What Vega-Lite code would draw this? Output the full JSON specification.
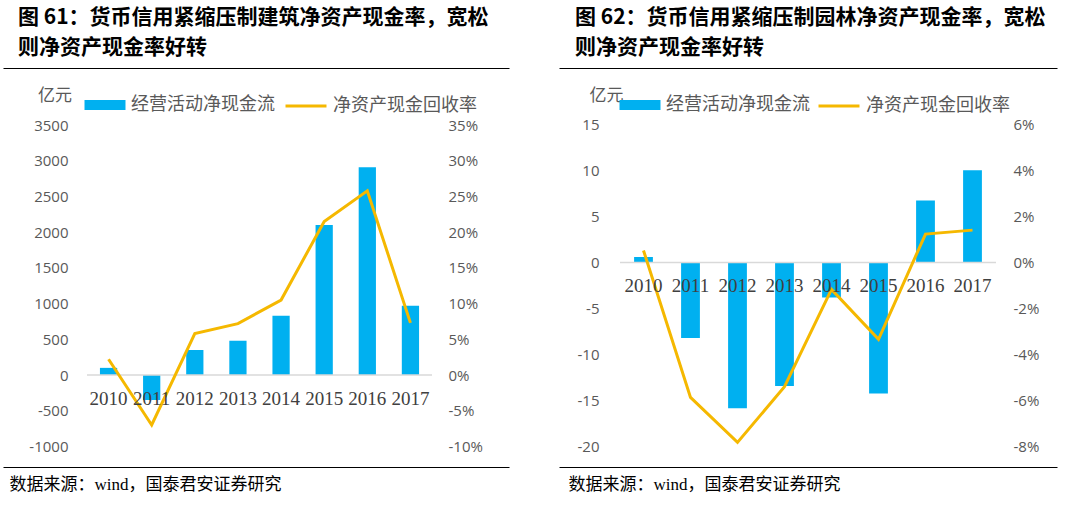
{
  "$schema": "https://vega.github.io/schema/vega-lite/v6.json",
  "padding": {"left": 3, "top": 7, "right": 5, "bottom": 5},
  "background": "white",
  "config": {"view": {"stroke": null}},
  "spacing": 50,
  "resolve": {"scale": {"fill": "independent", "stroke": "independent"}, "legend": {"fill": "independent", "stroke": "independent"}},
  "hconcat": [
    {
      "width": 506,
      "height": 399,
      "title": {"text": ["图 61：货币信用紧缩压制建筑净资产现金率，宽松", "则净资产现金率好转"], "anchor": "start", "dx": 15, "fontSize": 21, "font": "Noto Sans CJK SC", "fontWeight": "bold", "color": "#000000", "lineHeight": 30, "offset": 10},
      "data": {"values": [
        {"year": "2010", "cf": 100, "rate": 0.022},
        {"year": "2011", "cf": -350, "rate": -0.070},
        {"year": "2012", "cf": 350, "rate": 0.058},
        {"year": "2013", "cf": 480, "rate": 0.072},
        {"year": "2014", "cf": 830, "rate": 0.105},
        {"year": "2015", "cf": 2100, "rate": 0.215},
        {"year": "2016", "cf": 2910, "rate": 0.258},
        {"year": "2017", "cf": 970, "rate": 0.073}
      ]},
      "resolve": {"scale": {"x": "independent", "y": "independent"}, "axis": {"x": "independent", "y": "independent"}},
      "layer": [
        {
          "mark": {"type": "bar"},
          "encoding": {
            "x": {"field": "year", "type": "ordinal",
              "scale": {"domain": ["2010","2011","2012","2013","2014","2015","2016","2017"], "range": [84, 429], "paddingInner": 0.6, "paddingOuter": 0.3},
              "axis": {"orient": "bottom", "offset": -92, "zindex": 1, "domain": false, "ticks": false, "tickSize": 0, "labelPadding": 23, "labelBaseline": "middle", "labelAngle": 0, "labelFont": "Liberation Serif", "labelFontSize": 19, "labelColor": "#404040", "title": null, "grid": false}},
            "y": {"field": "cf", "type": "quantitative",
              "scale": {"domain": [-1288.5, 4300], "nice": false, "zero": false},
              "axis": {"orient": "left", "offset": -65, "values": [-1000, -500, 0, 500, 1000, 1500, 2000, 2500, 3000, 3500], "labelExpr": "'' + datum.value", "domain": false, "ticks": false, "tickSize": 0, "grid": false, "labelPadding": 0, "labelFont": "Open Sans", "labelFontSize": 15, "labelColor": "#595959",
                "title": "亿元", "titleAngle": 0, "titleX": -13.5, "titleY": 27, "titleAlign": "center", "titleBaseline": "middle", "titleFont": "Noto Sans CJK SC", "titleFontSize": 17, "titleFontWeight": "normal", "titleColor": "#595959"}},
            "fill": {"datum": "经营活动净现金流", "type": "nominal",
              "scale": {"domain": ["经营活动净现金流"], "range": ["#00B0F0"]},
              "legend": {"orient": "none", "legendX": 91, "legendY": 26, "title": null, "symbolType": "M-2,-0.5H2V0.5H-2Z", "symbolSize": 420, "labelFont": "Noto Sans CJK SC", "labelFontSize": 18, "labelColor": "#595959", "labelOffset": 15}}
          }
        },
        {
          "data": {"values": [{"start": "2010", "end": "2017", "v": 0}]},
          "mark": {"type": "rule", "color": "#D9D9D9", "strokeWidth": 1.5},
          "encoding": {
            "x": {"field": "start", "type": "ordinal", "bandPosition": -0.75,
              "scale": {"domain": ["2010","2011","2012","2013","2014","2015","2016","2017"], "range": [84, 429], "paddingInner": 0.6, "paddingOuter": 0.3},
              "axis": null},
            "x2": {"field": "end", "bandPosition": 1.75},
            "y": {"field": "v", "type": "quantitative", "scale": {"domain": [-1288.5, 4300], "nice": false, "zero": false}, "axis": null}
          }
        },
        {
          "mark": {"type": "line", "strokeWidth": 3},
          "encoding": {
            "x": {"field": "year", "type": "ordinal",
              "scale": {"domain": ["2010","2011","2012","2013","2014","2015","2016","2017"], "range": [84, 429], "paddingInner": 0.6, "paddingOuter": 0.3},
              "axis": null},
            "y": {"field": "rate", "type": "quantitative",
              "scale": {"domain": [-0.12885, 0.43], "nice": false, "zero": false},
              "axis": {"orient": "right", "offset": -61, "values": [-0.1, -0.05, 0, 0.05, 0.1, 0.15, 0.2, 0.25, 0.3, 0.35], "labelExpr": "round(datum.value * 100) + '%'", "domain": false, "ticks": false, "tickSize": 0, "grid": false, "labelPadding": 0, "labelAlign": "left", "labelFont": "Open Sans", "labelFontSize": 15, "labelColor": "#595959", "title": null}},
            "stroke": {"datum": "净资产现金回收率", "type": "nominal",
              "scale": {"domain": ["净资产现金回收率"], "range": ["#F5B800"]},
              "legend": {"orient": "none", "legendX": 291, "legendY": 26, "title": null, "symbolType": "M-2,0H2", "symbolSize": 420, "symbolStrokeWidth": 3, "labelFont": "Noto Sans CJK SC", "labelFontSize": 18, "labelColor": "#595959", "labelOffset": 15}}
          }
        },
        {
          "data": {"values": [{"f": 0.5}]},
          "mark": {"type": "point", "opacity": 0, "size": 1},
          "encoding": {
            "x": {"field": "f", "type": "quantitative", "scale": {"domain": [0, 1]},
              "axis": {"orient": "top", "domain": true, "domainColor": "#000000", "domainWidth": 1, "labels": false, "ticks": false, "grid": false, "title": null}}
          }
        },
        {
          "data": {"values": [{"f": 0.5}]},
          "mark": {"type": "point", "opacity": 0, "size": 1},
          "encoding": {
            "x": {"field": "f", "type": "quantitative", "scale": {"domain": [0, 1]},
              "axis": {"orient": "bottom", "domain": true, "domainColor": "#000000", "domainWidth": 1, "labels": false, "ticks": false, "grid": false,
                "title": "数据来源：wind，国泰君安证券研究", "titleX": 6, "titleY": 17, "titleAlign": "left", "titleBaseline": "middle", "titleFont": "Liberation Serif, Noto Sans CJK SC", "titleFontSize": 17, "titleFontWeight": "normal", "titleColor": "#000000"}}
          }
        }
      ]
    },
    {
      "width": 498,
      "height": 399,
      "title": {"text": ["图 62：货币信用紧缩压制园林净资产现金率，宽松", "则净资产现金率好转"], "anchor": "start", "dx": 16, "fontSize": 21, "font": "Noto Sans CJK SC", "fontWeight": "bold", "color": "#000000", "lineHeight": 30, "offset": 10},
      "data": {"values": [
        {"year": "2010", "cf": 0.6, "rate": 0.0052},
        {"year": "2011", "cf": -8.2, "rate": -0.0585},
        {"year": "2012", "cf": -15.8, "rate": -0.078},
        {"year": "2013", "cf": -13.4, "rate": -0.0539},
        {"year": "2014", "cf": -3.8, "rate": -0.0117},
        {"year": "2015", "cf": -14.2, "rate": -0.0333},
        {"year": "2016", "cf": 6.7, "rate": 0.0123},
        {"year": "2017", "cf": 10.0, "rate": 0.014}
      ]},
      "resolve": {"scale": {"x": "independent", "y": "independent"}, "axis": {"x": "independent", "y": "independent"}},
      "layer": [
        {
          "mark": {"type": "bar"},
          "encoding": {
            "x": {"field": "year", "type": "ordinal",
              "scale": {"domain": ["2010","2011","2012","2013","2014","2015","2016","2017"], "range": [61, 437], "paddingInner": 0.6, "paddingOuter": 0.3},
              "axis": {"orient": "bottom", "offset": -205, "zindex": 1, "domain": false, "ticks": false, "tickSize": 0, "labelPadding": 23, "labelBaseline": "middle", "labelAngle": 0, "labelFont": "Liberation Serif", "labelFontSize": 19, "labelColor": "#404040", "title": null, "grid": false}},
            "y": {"field": "cf", "type": "quantitative",
              "scale": {"domain": [-22.17, 21.07], "nice": false, "zero": false},
              "axis": {"orient": "left", "offset": -40, "values": [-20, -15, -10, -5, 0, 5, 10, 15], "labelExpr": "'' + datum.value", "domain": false, "ticks": false, "tickSize": 0, "grid": false, "labelPadding": 0, "labelFont": "Open Sans", "labelFontSize": 15, "labelColor": "#595959",
                "title": "亿元", "titleAngle": 0, "titleX": 7, "titleY": 27, "titleAlign": "center", "titleBaseline": "middle", "titleFont": "Noto Sans CJK SC", "titleFontSize": 17, "titleFontWeight": "normal", "titleColor": "#595959"}},
            "fill": {"datum": "经营活动净现金流", "type": "nominal",
              "scale": {"domain": ["经营活动净现金流"], "range": ["#00B0F0"]},
              "legend": {"orient": "none", "legendX": 70, "legendY": 26, "title": null, "symbolType": "M-2,-0.5H2V0.5H-2Z", "symbolSize": 420, "labelFont": "Noto Sans CJK SC", "labelFontSize": 18, "labelColor": "#595959", "labelOffset": 15}}
          }
        },
        {
          "data": {"values": [{"start": "2010", "end": "2017", "v": 0}]},
          "mark": {"type": "rule", "color": "#D9D9D9", "strokeWidth": 1.5},
          "encoding": {
            "x": {"field": "start", "type": "ordinal", "bandPosition": -0.75,
              "scale": {"domain": ["2010","2011","2012","2013","2014","2015","2016","2017"], "range": [61, 437], "paddingInner": 0.6, "paddingOuter": 0.3},
              "axis": null},
            "x2": {"field": "end", "bandPosition": 1.75},
            "y": {"field": "v", "type": "quantitative", "scale": {"domain": [-22.17, 21.07], "nice": false, "zero": false}, "axis": null}
          }
        },
        {
          "mark": {"type": "line", "strokeWidth": 3},
          "encoding": {
            "x": {"field": "year", "type": "ordinal",
              "scale": {"domain": ["2010","2011","2012","2013","2014","2015","2016","2017"], "range": [61, 437], "paddingInner": 0.6, "paddingOuter": 0.3},
              "axis": null},
            "y": {"field": "rate", "type": "quantitative",
              "scale": {"domain": [-0.08868, 0.08428], "nice": false, "zero": false},
              "axis": {"orient": "right", "offset": -44, "values": [-0.08, -0.06, -0.04, -0.02, 0, 0.02, 0.04, 0.06], "labelExpr": "round(datum.value * 100) + '%'", "domain": false, "ticks": false, "tickSize": 0, "grid": false, "labelPadding": 0, "labelAlign": "left", "labelFont": "Open Sans", "labelFontSize": 15, "labelColor": "#595959", "title": null}},
            "stroke": {"datum": "净资产现金回收率", "type": "nominal",
              "scale": {"domain": ["净资产现金回收率"], "range": ["#F5B800"]},
              "legend": {"orient": "none", "legendX": 268, "legendY": 26, "title": null, "symbolType": "M-2,0H2", "symbolSize": 420, "symbolStrokeWidth": 3, "labelFont": "Noto Sans CJK SC", "labelFontSize": 18, "labelColor": "#595959", "labelOffset": 15}}
          }
        },
        {
          "data": {"values": [{"f": 0.5}]},
          "mark": {"type": "point", "opacity": 0, "size": 1},
          "encoding": {
            "x": {"field": "f", "type": "quantitative", "scale": {"domain": [0, 1]},
              "axis": {"orient": "top", "domain": true, "domainColor": "#000000", "domainWidth": 1, "labels": false, "ticks": false, "grid": false, "title": null}}
          }
        },
        {
          "data": {"values": [{"f": 0.5}]},
          "mark": {"type": "point", "opacity": 0, "size": 1},
          "encoding": {
            "x": {"field": "f", "type": "quantitative", "scale": {"domain": [0, 1]},
              "axis": {"orient": "bottom", "domain": true, "domainColor": "#000000", "domainWidth": 1, "labels": false, "ticks": false, "grid": false,
                "title": "数据来源：wind，国泰君安证券研究", "titleX": 9, "titleY": 17, "titleAlign": "left", "titleBaseline": "middle", "titleFont": "Liberation Serif, Noto Sans CJK SC", "titleFontSize": 17, "titleFontWeight": "normal", "titleColor": "#000000"}}
          }
        }
      ]
    }
  ]
}
